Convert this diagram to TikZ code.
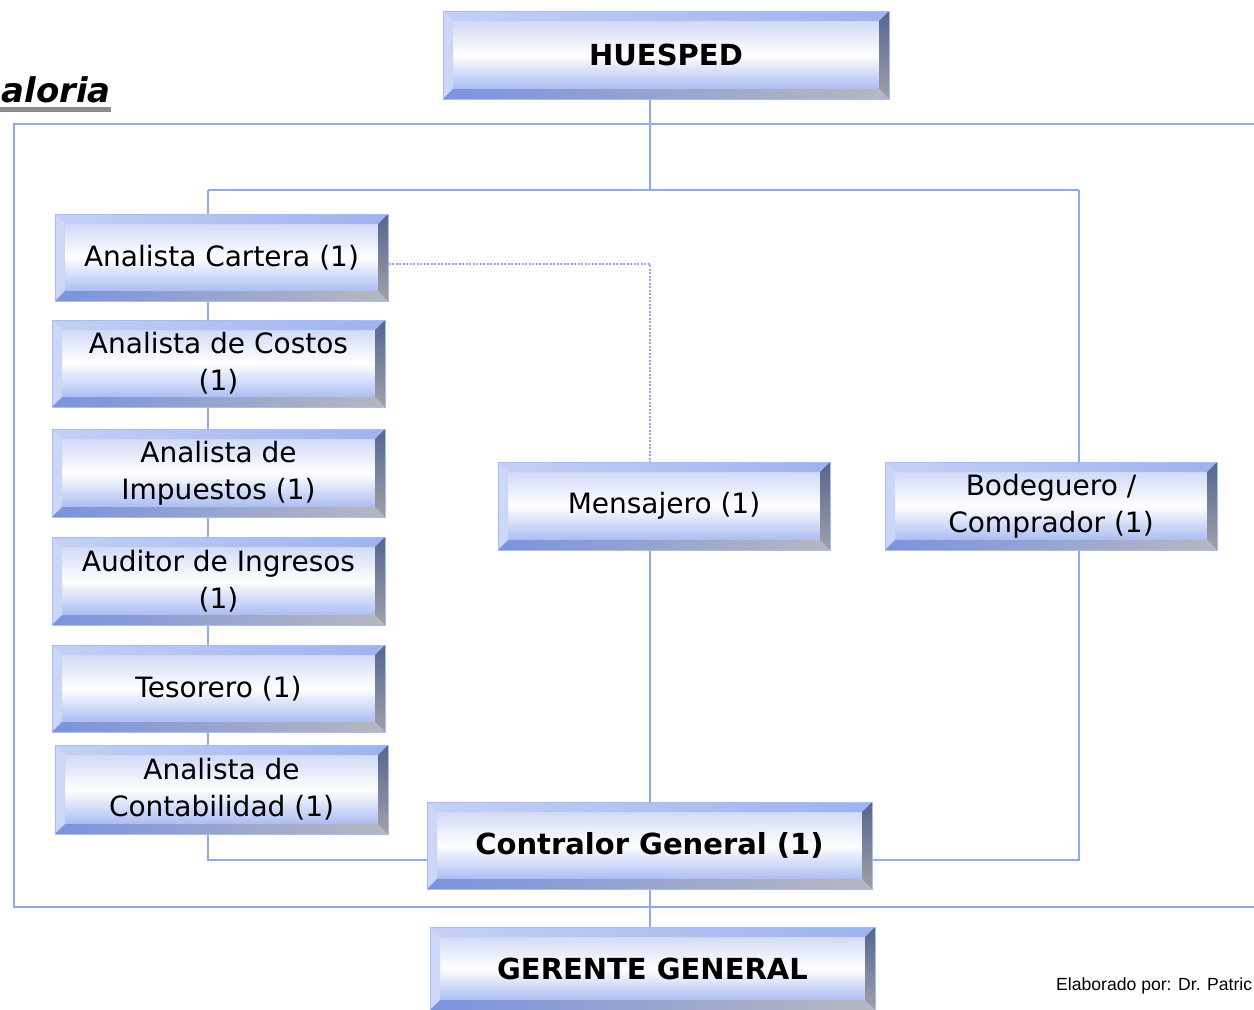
\documentclass[tikz,border=0pt]{standalone}
\usepackage{fontspec}
\setmainfont{DejaVu Sans}
\newfontfamily\elabfont{Liberation Sans}
\usetikzlibrary{backgrounds}
\definecolor{conncol}{HTML}{8EA8F2}
\definecolor{bedge}{HTML}{A9BCF2}
\definecolor{faceT}{HTML}{C3CFF5}
\definecolor{faceB}{HTML}{93A9EE}
\definecolor{topL}{HTML}{C4D0F5}
\definecolor{topR}{HTML}{9DB2EF}
\definecolor{leftc}{HTML}{CCD6F7}
\definecolor{rT}{HTML}{56668F}
\definecolor{rB}{HTML}{A0A0A8}
\definecolor{bL}{HTML}{7B93DF}
\definecolor{bR}{HTML}{B6B7C0}
\definecolor{ulgray}{HTML}{8C8C8C}
\tikzset{
  bev/.style={rectangle, draw=bedge, line width=1pt, inner sep=0pt, align=center, text=black,
    font=\fontsize{28}{37}\selectfont,
    path picture={
      \path (path picture bounding box.south west) coordinate (pSW)
            (path picture bounding box.north east) coordinate (pNE)
            (pSW|-pNE) coordinate (pNW)
            (pSW-|pNE) coordinate (pSE);
      \shade[top color=faceT, bottom color=faceB, middle color=white] (pSW) rectangle (pNE);
      \shade[left color=topL, right color=topR] (pNW) -- (pNE) -- ([shift={(-10pt,-10pt)}]pNE) -- ([shift={(10pt,-10pt)}]pNW) -- cycle;
      \fill[leftc] (pNW) -- ([shift={(10pt,-10pt)}]pNW) -- ([shift={(10pt,10pt)}]pSW) -- (pSW) -- cycle;
      \shade[top color=rT, bottom color=rB] (pNE) -- (pSE) -- ([shift={(-10pt,10pt)}]pSE) -- ([shift={(-10pt,-10pt)}]pNE) -- cycle;
      \shade[left color=bL, right color=bR] (pSW) -- (pSE) -- ([shift={(-10pt,10pt)}]pSE) -- ([shift={(10pt,10pt)}]pSW) -- cycle;
    }},
  smallbox/.style={bev, minimum width=333pt, minimum height=87pt},
  midbox/.style={bev, minimum width=332pt, minimum height=88pt},
  bigbox/.style={bev, minimum width=445pt, minimum height=87pt, font=\fontsize{29}{34}\selectfont\bfseries},
  conn/.style={draw=conncol, line width=2.6pt},
  dotline/.style={draw=conncol, line width=1.8pt, dash pattern=on 2pt off 1.5pt},
}
\begin{document}
\begin{tikzpicture}[x=1pt,y=-1pt]
\useasboundingbox (0,0) rectangle (1254,1010);

\node[bigbox, minimum width=446pt, minimum height=88pt] (hues) at (666,55) {HUESPED};
\node[smallbox] (cart) at (221.5,257.5) {Analista Cartera (1)};
\node[smallbox] (cost) at (218.5,363.5) {Analista de Costos\\(1)};
\node[smallbox, minimum height=88pt] (imp) at (218.5,473) {Analista de\\Impuestos (1)};
\node[smallbox, minimum height=88pt] (aud) at (218.5,581) {Auditor de Ingresos\\(1)};
\node[smallbox] (tes) at (218.5,688.5) {Tesorero (1)};
\node[smallbox, minimum height=89pt] (cont) at (221.5,789.5) {Analista de\\Contabilidad (1)};
\node[midbox] (mens) at (664,506) {Mensajero (1)};
\node[midbox] (bod) at (1051,506) {Bodeguero /\\Comprador (1)};
\node[bigbox] (ctrl) at (649.5,845.5) {Contralor General (1)};
\node[bigbox, minimum height=83pt] (ger) at (652.5,968.5) {GERENTE GENERAL};

\node[anchor=base east, inner sep=0pt, font=\fontsize{34}{34}\selectfont\bfseries\itshape] (title) at (111,102) {aloria};
\coordinate (u1) at (0,109.5);
\draw[ulgray, line width=5pt] (u1) -- (title.east |- u1);

\node[anchor=base west, inner sep=0pt, font=\elabfont\fontsize{17.6}{17.6}\selectfont] (elab) at (1056,990) {Elaborado por: Dr. Patric};

\coordinate (j0) at (650,190);
\coordinate (jl) at (208,190);
\coordinate (jr) at (1079,190);
\coordinate (lb) at (208,860);
\coordinate (rb) at (1079,860);
\coordinate (d1) at (650,264);
\coordinate (f1) at (1256,124);
\coordinate (f2) at (14,124);
\coordinate (f3) at (14,907);
\coordinate (f4) at (1256,907);

\begin{scope}[on background layer]
\draw[conn] (f1) -- (f2) -- (f3) -- (f4);
\draw[conn] (hues.south -| j0) -- (j0);
\draw[conn] (jl) -- (jr);
\draw[conn] (jl) -- (lb) -- (ctrl.west |- lb);
\draw[conn] (jr) -- (rb) -- (ctrl.east |- rb);
\draw[conn] (mens.south -| j0) -- (ctrl.north -| j0);
\draw[conn] (ctrl.south -| j0) -- (ger.north -| j0);
\draw[dotline] (cart.east |- d1) -- (d1) -- (mens.north -| d1);
\end{scope}
\end{tikzpicture}
\end{document}
